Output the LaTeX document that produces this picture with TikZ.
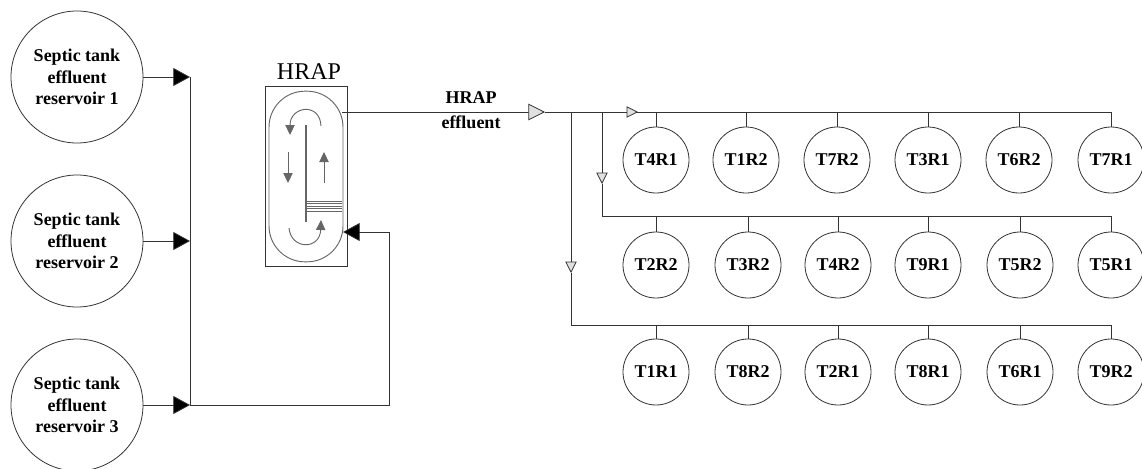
\documentclass[tikz,border=0pt]{standalone}
\usepackage{fontspec}
\setmainfont{Liberation Serif}
\usetikzlibrary{arrows.meta}
\definecolor{pipe}{HTML}{333333}
\definecolor{flow}{HTML}{666666}
\tikzset{
  pipe/.style={draw=pipe,line width=.6pt},
  feed/.style={pipe,-{Triangle[length=12.5pt,width=13.5pt,fill=black]}},
  valve/.style={pipe,-{Triangle[length=12.5pt,width=12.5pt,fill=black!12,line width=.6pt]}},
  tick/.style={pipe,-{Triangle[length=8.5pt,width=8.5pt,fill=black!12,line width=.6pt]}},
  swirl/.style={draw=flow,line width=.7pt,-{Triangle[length=7.5pt,width=7pt,fill=flow]}},
  tank/.style={circle,draw=pipe,line width=.6pt,minimum size=99pt,inner sep=0pt,align=center,
    font=\fontsize{13.5}{16}\selectfont\bfseries},
  reactor/.style={circle,draw=pipe,line width=.6pt,minimum size=49.5pt,inner sep=0pt,
    font=\fontsize{13.5}{16}\selectfont\bfseries},
  tag/.style={inner sep=0pt,align=center,font=\fontsize{13.5}{16}\selectfont\bfseries},
}
\begin{document}
\begin{tikzpicture}[x=.75pt,y=-.75pt]
\useasboundingbox (0,0) rectangle (1142,468);
% reservoirs
\node[tank] (res1) at (77,77) {Septic tank\\effluent\\reservoir 1};
\node[tank] (res2) at (77,241) {Septic tank\\effluent\\reservoir 2};
\node[tank] (res3) at (77,405) {Septic tank\\effluent\\reservoir 3};
\coordinate (bus1) at (190,77);
\coordinate (bus2) at (190,241);
\coordinate (bus3) at (190,405);
\foreach \i in {1,2,3}
  \draw[feed] (res\i) -- (bus\i);
\draw[pipe] (bus1) -- (bus3);
% pond
\node[draw=pipe,line width=.6pt,minimum width=61.5pt,minimum height=135pt,inner sep=0pt] (hrap) at (306,176) {};
\node[font=\fontsize{18}{20}\selectfont,inner sep=0pt] (hraplabel) at (309,72) {HRAP};
\node[draw=flow,line width=.7pt,rounded corners=27pt,minimum width=55.5pt,minimum height=128pt,inner sep=0pt] (pond) at (306,176.5) {};
\coordinate (baffletop) at (306,125);
\coordinate (bafflebot) at (306,222);
\draw[draw=flow,line width=.8pt] (baffletop) -- (bafflebot);
\foreach \y in {201,203.5,206,208.5,211}
  \draw[draw=flow,line width=.6pt] (306,\y) -- (342,\y);
\draw[swirl] (288,152) -- (288,183);
\draw[swirl] (324,183) -- (324,152);
\draw[swirl] (321,126) .. controls (320,102) and (290,106) .. (290,135);
\draw[swirl] (289,228) .. controls (291,250) and (320,250) .. (321,220);
% return line
\coordinate (back1) at (389,405);
\coordinate (back2) at (389,232);
\coordinate (pondin) at (343,232);
\draw[pipe] (bus3) -- (back1) -- (back2);
\draw[feed] (back2) -- (pondin);
% effluent
\coordinate (pondout) at (342,112);
\coordinate (eff) at (545,112);
\coordinate (tap3) at (571,112);
\coordinate (tap2) at (602,112);
\coordinate (tick1) at (638,112);
\coordinate (end1) at (1112,112);
\coordinate (tick2) at (602,184);
\coordinate (corner2) at (602,216);
\coordinate (end2) at (1112,216);
\coordinate (tick3) at (571,273);
\coordinate (corner3) at (571,325);
\coordinate (end3) at (1112,325);
\draw[valve] (pondout) -- (eff);
\node[tag] (hraptag) at (471,98) {HRAP};
\node[tag] (efftag) at (471,122) {effluent};
\draw[pipe] (eff) -- (tick1);
\draw[tick] (tap2) -- (tick1);
\draw[pipe] (tick1) -- (end1);
\draw[tick] (tap2) -- (tick2);
\draw[pipe] (tick2) -- (corner2) -- (end2);
\draw[tick] (tap3) -- (tick3);
\draw[pipe] (tick3) -- (corner3) -- (end3);
% reactors
\foreach \name/\x in {T4R1/656,T1R2/746,T7R2/837,T3R1/928,T6R2/1019,T7R1/1111}{
  \node[reactor] (a\name) at (\x,160) {\name};
  \draw[pipe] (a\name.north) -- (a\name.north |- end1);
}
\foreach \name/\x in {T2R2/656,T3R2/748,T4R2/838,T9R1/928,T5R2/1020,T5R1/1111}{
  \node[reactor] (b\name) at (\x,265) {\name};
  \draw[pipe] (b\name.north) -- (b\name.north |- end2);
}
\foreach \name/\x in {T1R1/656,T8R2/748,T2R1/838,T8R1/928,T6R1/1020,T9R2/1111}{
  \node[reactor] (c\name) at (\x,372) {\name};
  \draw[pipe] (c\name.north) -- (c\name.north |- end3);
}
\end{tikzpicture}
\end{document}
